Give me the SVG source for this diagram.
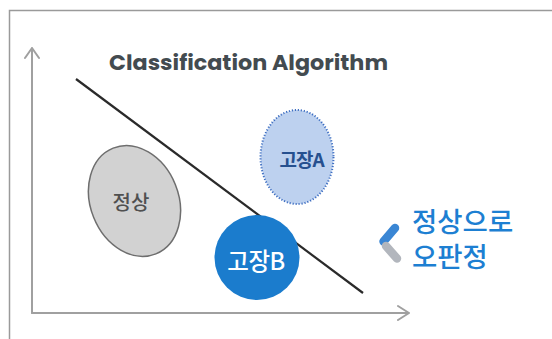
<svg xmlns="http://www.w3.org/2000/svg" width="552" height="339" viewBox="0 0 552 339">
<defs>
<style>
.frame{fill:none;stroke:#9a9a9a;stroke-width:1.5}
.axis{fill:none;stroke:#a0a0a0;stroke-width:2;stroke-linecap:round;stroke-linejoin:round}
.kr{font-family:"Noto Sans CJK KR","Noto Sans",sans-serif}
</style>
</defs>
<rect width="552" height="339" fill="#ffffff"/>
<path class="frame" d="M9.5,340 V10.5 H553"/>
<g id="axes">
<path class="axis" d="M32,313 V48 M25,58 L32,48 L39,58"/>
<path class="axis" d="M32,313 H409 M398,306 L409,313 L398,320"/>
</g>
<text id="title" x="109" y="70" font-family="Poppins,'Liberation Sans',sans-serif" font-weight="700" font-size="20.5" fill="#434b50" textLength="279" lengthAdjust="spacingAndGlyphs">Classification Algorithm</text>
<g id="connectors">
<line x1="76" y1="79" x2="363" y2="293" stroke="#2a2a2a" stroke-width="2.2"/>
</g>
<g id="normal">
<ellipse cx="134.5" cy="201" rx="44" ry="57" transform="rotate(-22 134.5 201)" fill="#d2d2d2" stroke="#6e6e6e" stroke-width="1.5"/>
<text class="kr" x="131" y="209.5" font-size="20" font-weight="500" fill="#505050" text-anchor="middle">정상</text>
</g>
<g id="faultA">
<ellipse cx="297" cy="157" rx="36.5" ry="47" fill="#bdd1ef" stroke="#3f6fc2" stroke-width="2" stroke-dasharray="1.2 1.8"/>
<text class="kr" x="301.5" y="166.5" font-size="19" font-weight="700" fill="#26508f" text-anchor="middle" letter-spacing="-1">고장A</text>
</g>
<g id="faultB">
<circle cx="257" cy="257.5" r="42.5" fill="#1b7ccd"/>
<text class="kr" x="256" y="269.5" font-size="23.5" font-weight="500" fill="#ffffff" text-anchor="middle" letter-spacing="-0.5">고장B</text>
</g>
<g id="misjudge">
<line x1="395" y1="228" x2="383.5" y2="241.5" stroke="#3a86d4" stroke-width="8.5" stroke-linecap="round"/>
<line x1="386" y1="246" x2="397" y2="258.5" stroke="#b2b6bd" stroke-width="8.5" stroke-linecap="round"/>
<text class="kr" x="412" y="232" font-size="27.5" font-weight="500" fill="#1d7fd2">정상으로</text>
<text class="kr" x="412" y="267" font-size="27.5" font-weight="500" fill="#1d7fd2">오판정</text>
</g>
</svg>
